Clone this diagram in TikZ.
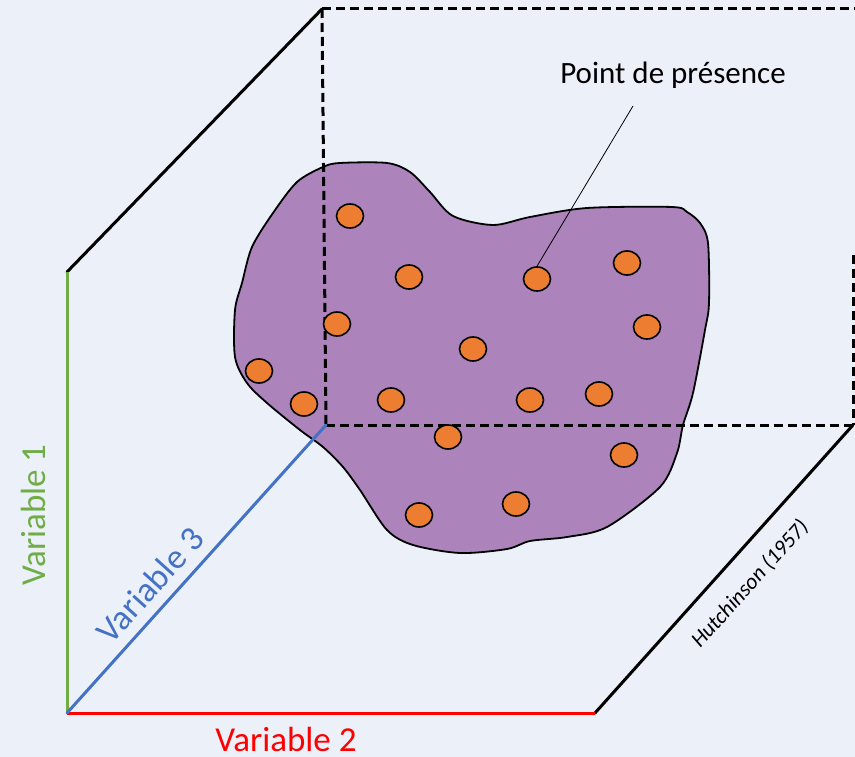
\documentclass[tikz,border=0pt]{standalone}
\usepackage{fontspec}
\setmainfont{Carlito}[Numbers=Lining]
\definecolor{bgc}{HTML}{ECF0F9}
\definecolor{blobc}{HTML}{AC83BA}
\definecolor{dotc}{HTML}{ED7D31}
\definecolor{v1c}{HTML}{70AD47}
\definecolor{v3c}{HTML}{4472C4}
\definecolor{v2c}{HTML}{FF0000}
\tikzset{
  edgeline/.style={line width=3pt, black, line cap=round},
  hidden/.style={line width=3pt, black, dash pattern=on 9pt off 5pt},
  axisline/.style={line width=3pt},
  presdot/.style={ellipse, draw=black, line width=1.6pt, fill=dotc, minimum width=27pt, minimum height=24pt, inner sep=0pt},
  lbl/.style={font=\fontsize{35}{40}\selectfont, inner sep=0pt}
}
\usetikzlibrary{shapes.geometric}
\begin{document}
\begin{tikzpicture}[x=1pt,y=-1pt]
\fill[bgc] (0,0) rectangle (855,757);
\useasboundingbox (0,0) rectangle (855,757);
% corners
\coordinate (O) at (67,713);
\coordinate (A) at (67,272);
\coordinate (B) at (595,713);
\coordinate (C) at (326,425);
\coordinate (D) at (322,9);
\coordinate (E) at (855,9);
\coordinate (F) at (853,425);
\coordinate (G) at (855,425);
\coordinate (H) at (853,255);
% blob
\draw[fill=blobc, line width=1.8pt, line join=round] plot[smooth cycle, tension=0.5] coordinates {
(323,167) (340,163) (387,163) (410,172) (430,192) (453,216) (493,225) (530,217) (587,208)
(672,207) (687,212) (700,223) (708,243) (709,303) (705,330) (693,393) (683,425) (677,453)
(660,487) (607,527) (567,537) (530,541) (507,549) (460,553) (413,545) (387,530) (360,490)
(343,467) (323,447) (300,430) (267,403) (247,383) (235,357) (235,310) (242,283) (252,247)
(273,213) (297,182)};
% hidden edges
\draw[hidden] (D) -- (E);
\draw[hidden] (D) -- (C);
\draw[hidden] (C) -- (G);
\draw[hidden] (H) -- (F);
% solid edges
\draw[edgeline] (A) -- (D);
\draw[edgeline] (B) -- (F);
% axes
\draw[axisline, v1c] (O) -- (A);
\draw[axisline, v2c] (O) -- (B);
\draw[axisline, v3c, line cap=round] (O) -- (C);
% dots
\node[presdot] (p1) at (350,216) {};
\node[presdot] (p2) at (409,277) {};
\node[presdot] (p3) at (537,279) {};
\node[presdot] (p4) at (627,263) {};
\node[presdot] (p5) at (337,324) {};
\node[presdot] (p6) at (647,327) {};
\node[presdot] (p7) at (473,349) {};
\node[presdot] (p8) at (259,371) {};
\node[presdot] (p9) at (304,404) {};
\node[presdot] (p10) at (391,400) {};
\node[presdot] (p11) at (530,400) {};
\node[presdot] (p12) at (599,394) {};
\node[presdot] (p13) at (448,437) {};
\node[presdot] (p14) at (624,455) {};
\node[presdot] (p15) at (419,515) {};
\node[presdot] (p16) at (516,504) {};
% labels
\node[font=\fontsize{31}{36}\selectfont, inner sep=0pt] (lab) at (673,75) {Point de présence};
\coordinate (labfoot) at (633,106);
\draw[line width=0.8pt] (labfoot) -- (p3.north);
\node[lbl, text=v1c, rotate=90] (l1) at (33,515) {Variable 1};
\node[lbl, text=v2c] (l2) at (286,739) {Variable 2};
\node[lbl, text=v3c, rotate=48] (l3) at (150,585) {Variable 3};
\node[font=\fontsize{22}{26}\selectfont\itshape, inner sep=0pt, rotate=48] (hut) at (750,584) {Hutchinson (1957)};
\end{tikzpicture}
\end{document}
